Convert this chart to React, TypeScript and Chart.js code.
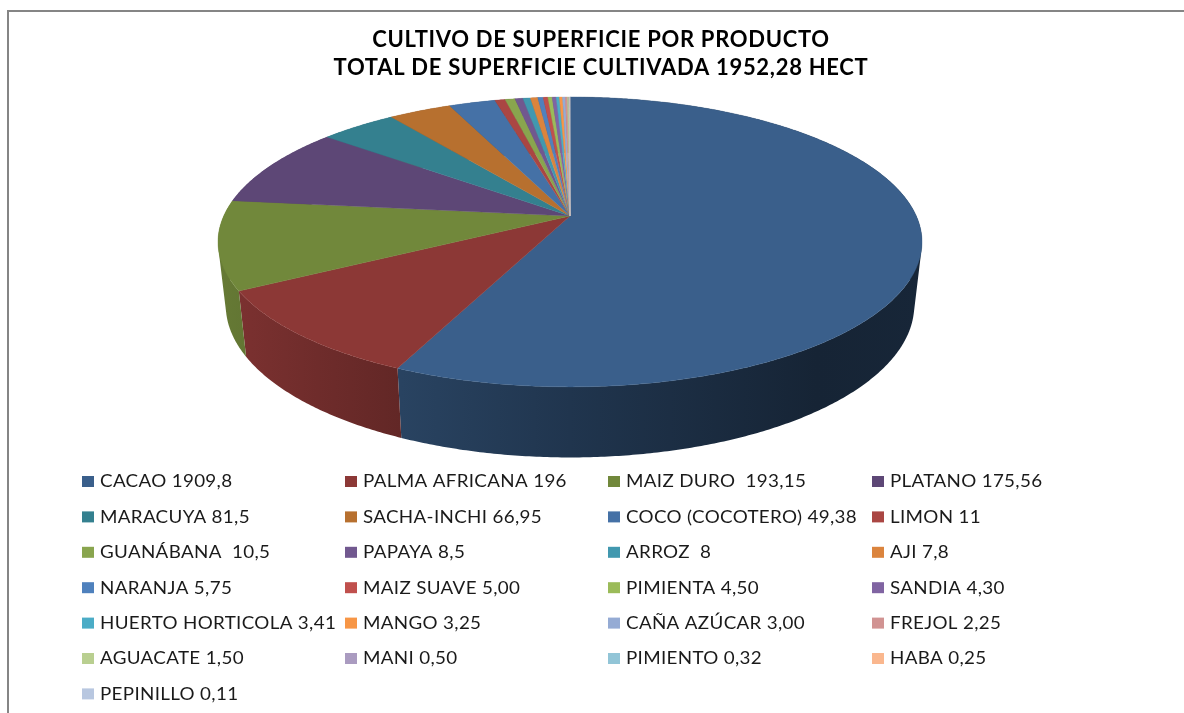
import React, { useEffect, useRef } from "react";
import { Chart, registerables } from "chart.js";

Chart.register(...registerables);

const titleLines = ["CULTIVO DE SUPERFICIE POR PRODUCTO", "TOTAL DE SUPERFICIE CULTIVADA 1952,28 HECT"];

const categories = [
  "CACAO 1909,8", "PALMA AFRICANA 196", "MAIZ DURO  193,15", "PLATANO 175,56",
  "MARACUYA 81,5", "SACHA-INCHI 66,95", "COCO (COCOTERO) 49,38", "LIMON 11",
  "GUANÁBANA  10,5", "PAPAYA 8,5", "ARROZ  8", "AJI 7,8",
  "NARANJA 5,75", "MAIZ SUAVE 5,00", "PIMIENTA 4,50", "SANDIA 4,30",
  "HUERTO HORTICOLA 3,41", "MANGO 3,25", "CAÑA AZÚCAR 3,00", "FREJOL 2,25",
  "AGUACATE 1,50", "MANI 0,50", "PIMIENTO 0,32", "HABA 0,25",
  "PEPINILLO 0,11",
];

// The drawn Cacao slice is 56.8% of the pie (1109.8 of the 1952.28 in the title), not what its label says.
const surface = [
  1109.8, 196, 193.15, 175.56,
  81.5, 66.95, 49.38, 11,
  10.5, 8.5, 8, 7.8,
  5.75, 5, 4.5, 4.3,
  3.41, 3.25, 3, 2.25,
  1.5, 0.5, 0.32, 0.25,
  0.11,
];

const colors = [
  "#3A5F8B", "#8C3836", "#71883B", "#5D4776",
  "#34808F", "#B7702F", "#4571A6", "#AA4643",
  "#89A54E", "#71588F", "#4198AF", "#DB843D",
  "#4F81BD", "#C0504D", "#9BBB59", "#8064A2",
  "#4BACC6", "#F79646", "#95ABD4", "#D19392",
  "#B9CF90", "#AA9BC0", "#92C5D7", "#FAB78E",
  "#B8C7E0",
];

const FONT = "Lato, Carlito, sans-serif";

// perspective view of the pie disk
const CX = 570, CY = 216, RX = 346.3, SY = 140.3, KP = 0.179;
const DEPTH_X = 0.978, DEPTH_SHIFT = 62, DEPTH_Y = 1.05;

function topPoint(theta: number): [number, number] {
  const u = Math.sin(theta), v = -Math.cos(theta), d = 1 - KP * v;
  return [CX + (RX * u) / d, CY + (SY * v) / d];
}
function bottomPoint(theta: number): [number, number] {
  const [x, y] = topPoint(theta);
  return [CX + (x - CX) * DEPTH_X, CY + DEPTH_SHIFT + (y - CY) * DEPTH_Y];
}
function shade(hex: string, f: number) {
  const n = parseInt(hex.slice(1), 16);
  return `rgb(${Math.round(((n >> 16) & 255) * f)},${Math.round(((n >> 8) & 255) * f)},${Math.round((n & 255) * f)})`;
}

const pie3d = {
  id: "pie3d",
  beforeDraw(chart: any) {
    (chart.ctx as any).letterSpacing = "0.7px";
  },
  beforeDatasetsDraw(chart: any) {
    const ctx = chart.ctx;
    (ctx as any).letterSpacing = "0px";
    const arcs = chart.getDatasetMeta(0).data;
    const slices = arcs.map((arc: any, i: number) => {
      const { startAngle, endAngle } = arc.getProps(["startAngle", "endAngle"], true);
      return { a: startAngle + Math.PI / 2, b: endAngle + Math.PI / 2, color: colors[i] };
    });
    const step = Math.PI / 360;
    ctx.save();
    slices.forEach(({ a, b, color }: any) => {
      const g = ctx.createLinearGradient(218, 0, 922, 0);
      g.addColorStop(0, shade(color, 0.9));
      g.addColorStop(0.26, shade(color, 0.7));
      g.addColorStop(0.5, shade(color, 0.56));
      g.addColorStop(0.85, shade(color, 0.38));
      g.addColorStop(1, shade(color, 0.4));
      ctx.beginPath();
      const n = Math.max(2, Math.ceil((b - a) / step));
      for (let j = 0; j < n; j++) {
        const t0 = a + ((b - a) * j) / n, t1 = a + ((b - a) * (j + 1)) / n;
        const quad = [topPoint(t0), topPoint(t1), bottomPoint(t1), bottomPoint(t0)];
        let area = 0;
        quad.forEach(([x, y], k) => {
          const [nx, ny] = quad[(k + 1) % 4];
          area += x * ny - nx * y;
        });
        if (area < 0) quad.reverse();
        quad.forEach(([x, y], k) => (k ? ctx.lineTo(x, y) : ctx.moveTo(x, y)));
        ctx.closePath();
      }
      ctx.fillStyle = g;
      ctx.fill("nonzero");
    });
    slices.forEach(({ a, b, color }: any) => {
      ctx.beginPath();
      ctx.moveTo(CX, CY);
      const n = Math.max(2, Math.ceil((b - a) / step));
      for (let j = 0; j <= n; j++) {
        const [x, y] = topPoint(a + ((b - a) * j) / n);
        ctx.lineTo(x, y);
      }
      ctx.closePath();
      ctx.fillStyle = color;
      ctx.strokeStyle = color;
      ctx.lineWidth = 0.4;
      ctx.fill();
      ctx.stroke();
    });
    ctx.restore();
    return false;
  },
};

const LEG_SWATCH_X = [82, 345, 608, 872];
const LEG_Y0 = 481, LEG_DY = 35.4;

const gridLegend = {
  id: "gridLegend",
  afterDraw(chart: any) {
    const ctx = chart.ctx;
    ctx.save();
    ctx.font = `17px ${FONT}`;
    ctx.textBaseline = "middle";
    ctx.textAlign = "left";
    (ctx as any).letterSpacing = "0.3px";
    (chart.data.labels as string[]).forEach((label, i) => {
      const col = i % 4, row = Math.floor(i / 4);
      const x = LEG_SWATCH_X[col], y = LEG_Y0 + row * LEG_DY;
      ctx.fillStyle = colors[i];
      ctx.fillRect(x, y - 5, 12, 11);
      ctx.fillStyle = "#1a1a1a";
      ctx.save();
      ctx.translate(x + 18, y + 1);
      ctx.scale(1.105, 1);
      ctx.fillText(label, 0, 0);
      ctx.restore();
    });
    ctx.restore();
  },
};

export default function App() {
  const ref = useRef<HTMLCanvasElement>(null);
  useEffect(() => {
    const chart = new Chart(ref.current!, {
      type: "pie",
      data: {
        labels: categories,
        datasets: [{ data: surface, backgroundColor: colors, borderWidth: 0 }],
      },
      options: {
        animation: false,
        responsive: false,
        layout: { padding: { left: 18, top: 0, right: 0, bottom: 0 } },
        plugins: {
          legend: { display: false },
          tooltip: { enabled: false },
          title: {
            display: true,
            text: titleLines,
            color: "#000",
            font: { family: FONT, size: 22, weight: "bold", lineHeight: 1.273 },
            padding: { top: 26, bottom: 10 },
          },
        },
      },
      plugins: [pie3d, gridLegend],
    } as any);
    return () => chart.destroy();
  }, []);
  return (
    <div style={{ position: "fixed", left: 0, top: 0, width: 1184, height: 713, overflow: "hidden", background: "#fff" }}>
      <canvas ref={ref} width={1184} height={713} style={{ display: "block" }} />
      <div style={{ position: "absolute", left: 7, top: 10, width: 1300, height: 900, border: "2px solid #858585", boxSizing: "border-box" }} />
    </div>
  );
}
